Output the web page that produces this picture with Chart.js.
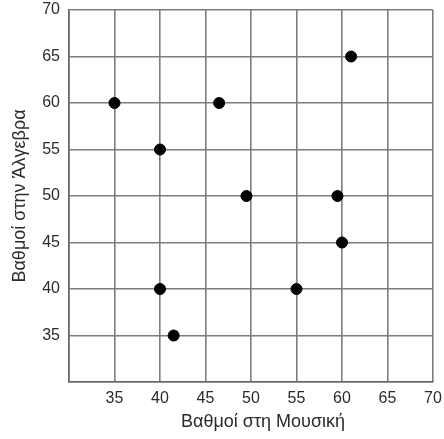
<!DOCTYPE html>
<html>
<head>
<meta charset="utf-8">
<script src="https://cdn.jsdelivr.net/npm/chart.js@4"></script>
<style>
  body { margin: 0; background: #fff; }
</style>
</head>
<body>
<canvas id="myChart" width="444" height="439"></canvas>
<script>
const musicScores = [35, 46.5, 61, 40, 49.5, 59.5, 60, 40, 55, 41.5];
const algebraScores = [60, 60, 65, 55, 50, 50, 45, 40, 40, 35];
const axisMin = 30;
const axisMax = 70;
const xTitle = "Βαθμοί στη Μουσική";
const yTitle = "Βαθμοί στην Άλγεβρα";

const points = musicScores.map((x, i) => ({ x: x, y: algebraScores[i] }));

const gridColor = "#7d7d7d";
const textColor = "#2b2b2b";
const font = "'Liberation Sans', Arial, sans-serif";

// axis titles drawn by hand, the original ones sit a bit off-center
const axisTitles = {
  id: "axisTitles",
  afterDraw(chart) {
    const ctx = chart.ctx;
    const area = chart.chartArea;
    ctx.save();
    ctx.fillStyle = textColor;
    ctx.font = "18px " + font;
    ctx.textAlign = "center";
    ctx.textBaseline = "middle";
    ctx.fillText(xTitle, (area.left + area.right) / 2 + 12, 422);
    ctx.translate(20, (area.top + area.bottom) / 2);
    ctx.rotate(-Math.PI / 2);
    ctx.fillText(yTitle, 0, 0);
    ctx.restore();
  },
};

// let the end labels hang over the plot edge like in the original
function noEdgePadding(scale) {
  scale.paddingLeft = 0;
  scale.paddingRight = 0;
  scale.paddingTop = 0;
  scale.paddingBottom = 0;
}

new Chart(document.getElementById("myChart"), {
  type: "scatter",
  data: {
    datasets: [
      {
        label: "Μαθητές",
        data: points,
        backgroundColor: "#000",
        borderColor: "#000",
        pointRadius: 5.5,
      },
    ],
  },
  options: {
    responsive: false,
    animation: false,
    devicePixelRatio: 1,
    layout: { padding: { top: 10, right: 11, left: 0, bottom: 0 } },
    plugins: {
      legend: { display: false },
      tooltip: { enabled: false },
    },
    scales: {
      x: {
        type: "linear",
        min: axisMin,
        max: axisMax,
        afterFit: (scale) => {
          scale.height = 57;
          noEdgePadding(scale);
        },
        ticks: {
          stepSize: 5,
          color: textColor,
          font: { family: font, size: 16 },
          padding: 7,
          callback: (v) => (v === axisMin ? "" : v),
        },
        grid: { color: gridColor, lineWidth: 1.6, drawTicks: false },
        border: { color: "#666", width: 1.6 },
      },
      y: {
        type: "linear",
        min: axisMin,
        max: axisMax,
        afterFit: (scale) => {
          scale.width = 69;
          noEdgePadding(scale);
        },
        ticks: {
          stepSize: 5,
          color: textColor,
          font: { family: font, size: 16 },
          padding: 9,
          callback: (v) => (v === axisMin ? "" : v),
        },
        grid: { color: gridColor, lineWidth: 1.6, drawTicks: false },
        border: { color: "#666", width: 1.6 },
      },
    },
  },
  plugins: [axisTitles],
});
</script>
</body>
</html>
